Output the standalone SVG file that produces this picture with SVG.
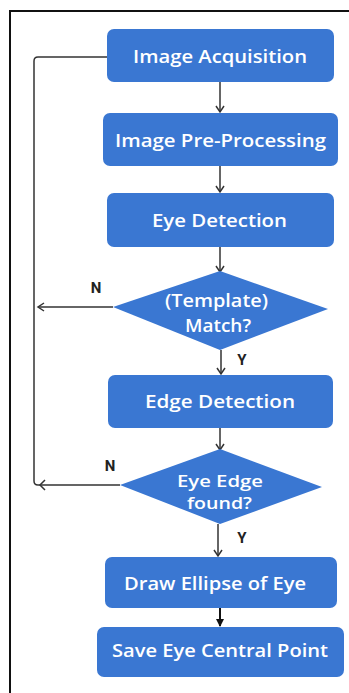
<svg xmlns="http://www.w3.org/2000/svg" width="349" height="693" viewBox="0 0 349 693">
<style>
.box{fill:#3a77d2}
.t{fill:#ffffff;font-family:"Open Sans","Liberation Sans",sans-serif;font-size:18px;font-weight:600;text-anchor:middle}
.s{font-size:17px}
.lbl{fill:#222;font-family:"Roboto","Liberation Sans",sans-serif;font-size:15px;font-weight:bold;text-anchor:middle}
.ln{fill:none;stroke:#333;stroke-width:1.5}
</style>
<defs>
<marker id="ah" markerWidth="10" markerHeight="10" refX="8" refY="5" orient="auto" markerUnits="userSpaceOnUse">
<path d="M2,1 L8,5 L2,9" fill="none" stroke="#333" stroke-width="1.5"/>
</marker>
<marker id="ahf" markerWidth="10" markerHeight="10" refX="8" refY="5" orient="auto" markerUnits="userSpaceOnUse">
<path d="M1,1 L9,5 L1,9 Z" fill="#111"/>
</marker>
</defs>
<rect width="349" height="693" fill="#ffffff"/>
<path d="M10,693 V11 H349" fill="none" stroke="#111" stroke-width="2"/>
<g id="connectors">
<line class="ln" x1="220" y1="82" x2="220" y2="112" marker-end="url(#ah)"/>
<line class="ln" x1="220" y1="166" x2="220" y2="192" marker-end="url(#ah)"/>
<line class="ln" x1="220" y1="247" x2="220" y2="272" marker-end="url(#ah)"/>
<line class="ln" x1="221" y1="350" x2="221" y2="374" marker-end="url(#ah)"/>
<line class="ln" x1="220" y1="428" x2="220" y2="450" marker-end="url(#ah)"/>
<line class="ln" x1="218" y1="524" x2="218" y2="556" marker-end="url(#ah)"/>
<line x1="220" y1="608" x2="220" y2="626" stroke="#111" stroke-width="2" marker-end="url(#ahf)"/>
<line class="ln" x1="113" y1="307" x2="38" y2="307" marker-end="url(#ah)"/>
<path class="ln" d="M120,485 H38 Q34,485 34,481 V61 Q34,57 38,57 H107"/>
<path class="ln" d="M45,480 L40,485 L45,490"/>
<text class="lbl" x="96" y="293">N</text>
<text class="lbl" x="110" y="471">N</text>
<text class="lbl" x="242" y="365">Y</text>
<text class="lbl" x="242" y="543">Y</text>
</g>
<g id="n1"><rect class="box" x="107" y="29" width="227" height="53" rx="7"/><text class="t" x="220" y="63" textLength="174" lengthAdjust="spacingAndGlyphs">Image Acquisition</text></g>
<g id="n2"><rect class="box" x="103" y="113" width="235" height="53" rx="7"/><text class="t" x="220.5" y="147" textLength="211" lengthAdjust="spacingAndGlyphs">Image Pre-Processing</text></g>
<g id="n3"><rect class="box" x="107" y="193" width="227" height="54" rx="7"/><text class="t" x="219.5" y="227" textLength="135" lengthAdjust="spacingAndGlyphs">Eye Detection</text></g>
<g id="n4"><polygon class="box" points="220,271 328,309 220,350 113,307"/><text class="t" x="216.5" y="307" textLength="103" lengthAdjust="spacingAndGlyphs">(Template)</text><text class="t" x="218" y="332" textLength="66" lengthAdjust="spacingAndGlyphs">Match?</text></g>
<g id="n5"><rect class="box" x="108" y="375" width="225" height="53" rx="7"/><text class="t" x="220" y="408" textLength="150" lengthAdjust="spacingAndGlyphs">Edge Detection</text></g>
<g id="n6"><polygon class="box" points="220,449 322,487 220,524 120,485"/><text class="t s" x="220" y="487" textLength="86" lengthAdjust="spacingAndGlyphs">Eye Edge</text><text class="t s" x="219.5" y="509" textLength="65" lengthAdjust="spacingAndGlyphs">found?</text></g>
<g id="n7"><rect class="box" x="105" y="557" width="232" height="51" rx="7"/><text class="t" x="215" y="590" textLength="182" lengthAdjust="spacingAndGlyphs">Draw Ellipse of Eye</text></g>
<g id="n8"><rect class="box" x="97" y="627" width="247" height="50" rx="7"/><text class="t" x="220" y="657" textLength="216" lengthAdjust="spacingAndGlyphs">Save Eye Central Point</text></g>
</svg>
